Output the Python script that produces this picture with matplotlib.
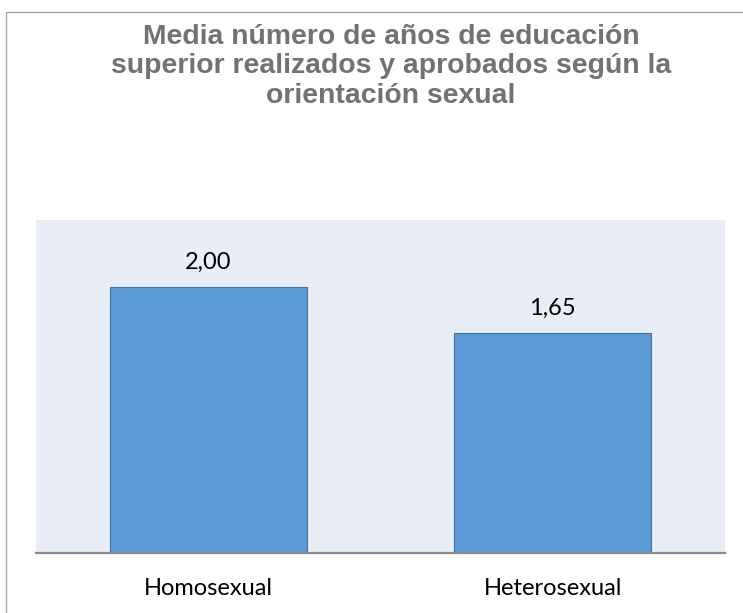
import matplotlib
matplotlib.use("Agg")
import matplotlib.pyplot as plt
from matplotlib.patches import Rectangle

categories = ["Homosexual", "Heterosexual"]
values = [2.00, 1.65]
title = "Media número de años de educación\nsuperior realizados y aprobados según la\norientación sexual"

W, H = 743, 613
fig = plt.figure(figsize=(W / 100, H / 100), dpi=100)
fig.patch.set_facecolor("white")

# chart border (extends beyond right and bottom edges)
fig.add_artist(Rectangle((6 / W, -0.1), 1.2, (H - 12.5) / H + 0.1,
                         transform=fig.transFigure, fill=False,
                         edgecolor="#A6A6A6", linewidth=1.0))

ax_left, ax_right = 36 / W, 725 / W
ax_bottom = (H - 552.7) / H
ax_top = (H - 220) / H
ax = fig.add_axes([ax_left, ax_bottom, ax_right - ax_left, ax_top - ax_bottom])
ax.set_facecolor("#E9EDF5")

x = list(range(len(categories)))
bars = ax.bar(x, values, width=0.572, color="#5B9BD5", edgecolor="#41719C",
              linewidth=0.8, zorder=2)
ax.set_xlim(-0.5, len(categories) - 0.5)
ax.set_ylim(0, 2.5)

labels = [f"{v:.2f}".replace(".", ",") for v in values]
ax.bar_label(bars, labels=labels, padding=10, fontsize=17, family="Lato",
             color="#000000")

ax.set_xticks(x)
ax.set_xticklabels(categories, fontsize=17, family="Lato", color="#000000")
ax.tick_params(axis="x", length=0, pad=18)
ax.set_yticks([])
for s in ["top", "left", "right"]:
    ax.spines[s].set_visible(False)
ax.spines["bottom"].set_color("#898989")
ax.spines["bottom"].set_linewidth(1.6)
ax.spines["bottom"].set_zorder(3)

fig.text(391 / W, 1 - 23.5 / H, title, ha="center", va="top",
         fontsize=20.4, fontweight="bold", family="Liberation Sans",
         color="#767171", linespacing=1.18)

fig.savefig("out.png", dpi=100, facecolor=fig.get_facecolor())
